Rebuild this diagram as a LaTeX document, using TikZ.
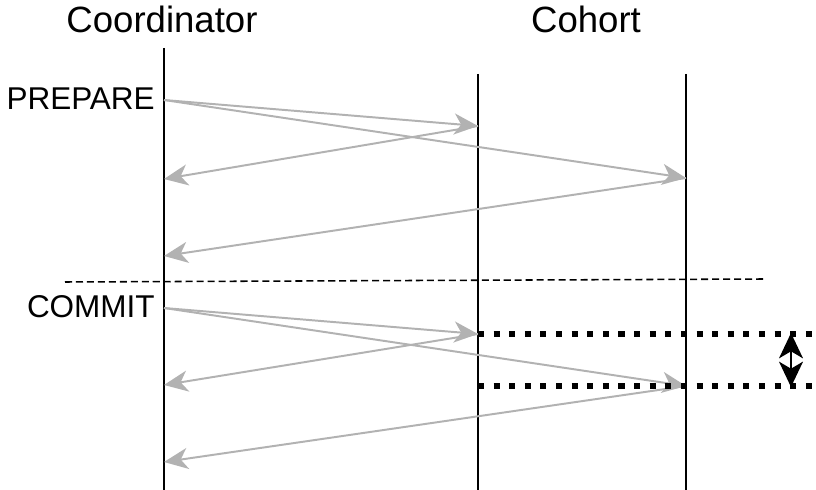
\documentclass[tikz,border=0pt]{standalone}
\usepackage{fontspec}
\setmainfont{Liberation Sans}
\usetikzlibrary{arrows.meta}

\begin{document}
\begin{tikzpicture}[x=0.025cm, y=-0.025cm,
  life/.style={line width=1.6pt},
  msg/.style={draw=black!30, line width=1.4pt,
    -{Stealth[length=17pt,width=15pt,inset=5pt]}},
  title/.style={inner sep=0pt, anchor=base, font=\fontsize{26}{31}\selectfont},
  phase/.style={inner sep=0pt, anchor=base east, font=\fontsize{22.4}{27}\selectfont}]
  \useasboundingbox (0,0) rectangle (816,490);

  % Lifelines
  \coordinate (coTop) at (164,48);  \coordinate (coBot) at (164,490);
  \coordinate (aTop)  at (478,74);  \coordinate (aBot)  at (478,490);
  \coordinate (bTop)  at (686,74);  \coordinate (bBot)  at (686,490);
  \draw[life] (coTop) -- (coBot);
  \draw[life] (aTop) -- (aBot);
  \draw[life] (bTop) -- (bBot);

  \node[title] (coord) at (162,33) {Coordinator};
  \node[title] (cohort) at (586,33) {Cohort};

  % Phase one
  \node[phase] (prep) at (155,110) {PREPARE};
  \coordinate (p0) at (164,100);
  \coordinate (pa) at (478,126);  \coordinate (pb) at (686,178);
  \coordinate (ra) at (164,179);  \coordinate (rb) at (164,256);

  % Phase two
  \node[phase] (comm) at (155,318) {COMMIT};
  \coordinate (m0) at (164,308);
  \coordinate (ma) at (478,334);  \coordinate (mb) at (686,386);
  \coordinate (sa) at (164,385);  \coordinate (sb) at (164,462);

  % Requests out, votes back
  \foreach \from/\to in {p0/pa, p0/pb, pa/ra, pb/rb, m0/ma, m0/mb, ma/sa, mb/sb}
    \draw[msg] (\from) -- (\to);

  % Phase boundary
  \coordinate (sepL) at (65,282);  \coordinate (sepR) at (765,279);
  \draw[line width=1.1pt, dash pattern=on 5pt off 2.8pt] (sepL) -- (sepR);

  % Window between the two commits
  \coordinate (wa) at (816,334);  \coordinate (wb) at (816,386);
  \coordinate (gapTop) at (791,333);  \coordinate (gapBot) at (791,387);
  \draw[line width=4.3pt, dash pattern=on 4.3pt off 6.8pt] (ma) -- (wa);
  \draw[line width=4.3pt, dash pattern=on 4.3pt off 6.8pt] (478,386) -- (wb);
  \draw[line width=1.6pt, {Stealth[length=18pt,width=17pt,inset=5pt]}-{Stealth[length=18pt,width=17pt,inset=5pt]}]
    (gapTop) -- (gapBot);
\end{tikzpicture}
\end{document}
